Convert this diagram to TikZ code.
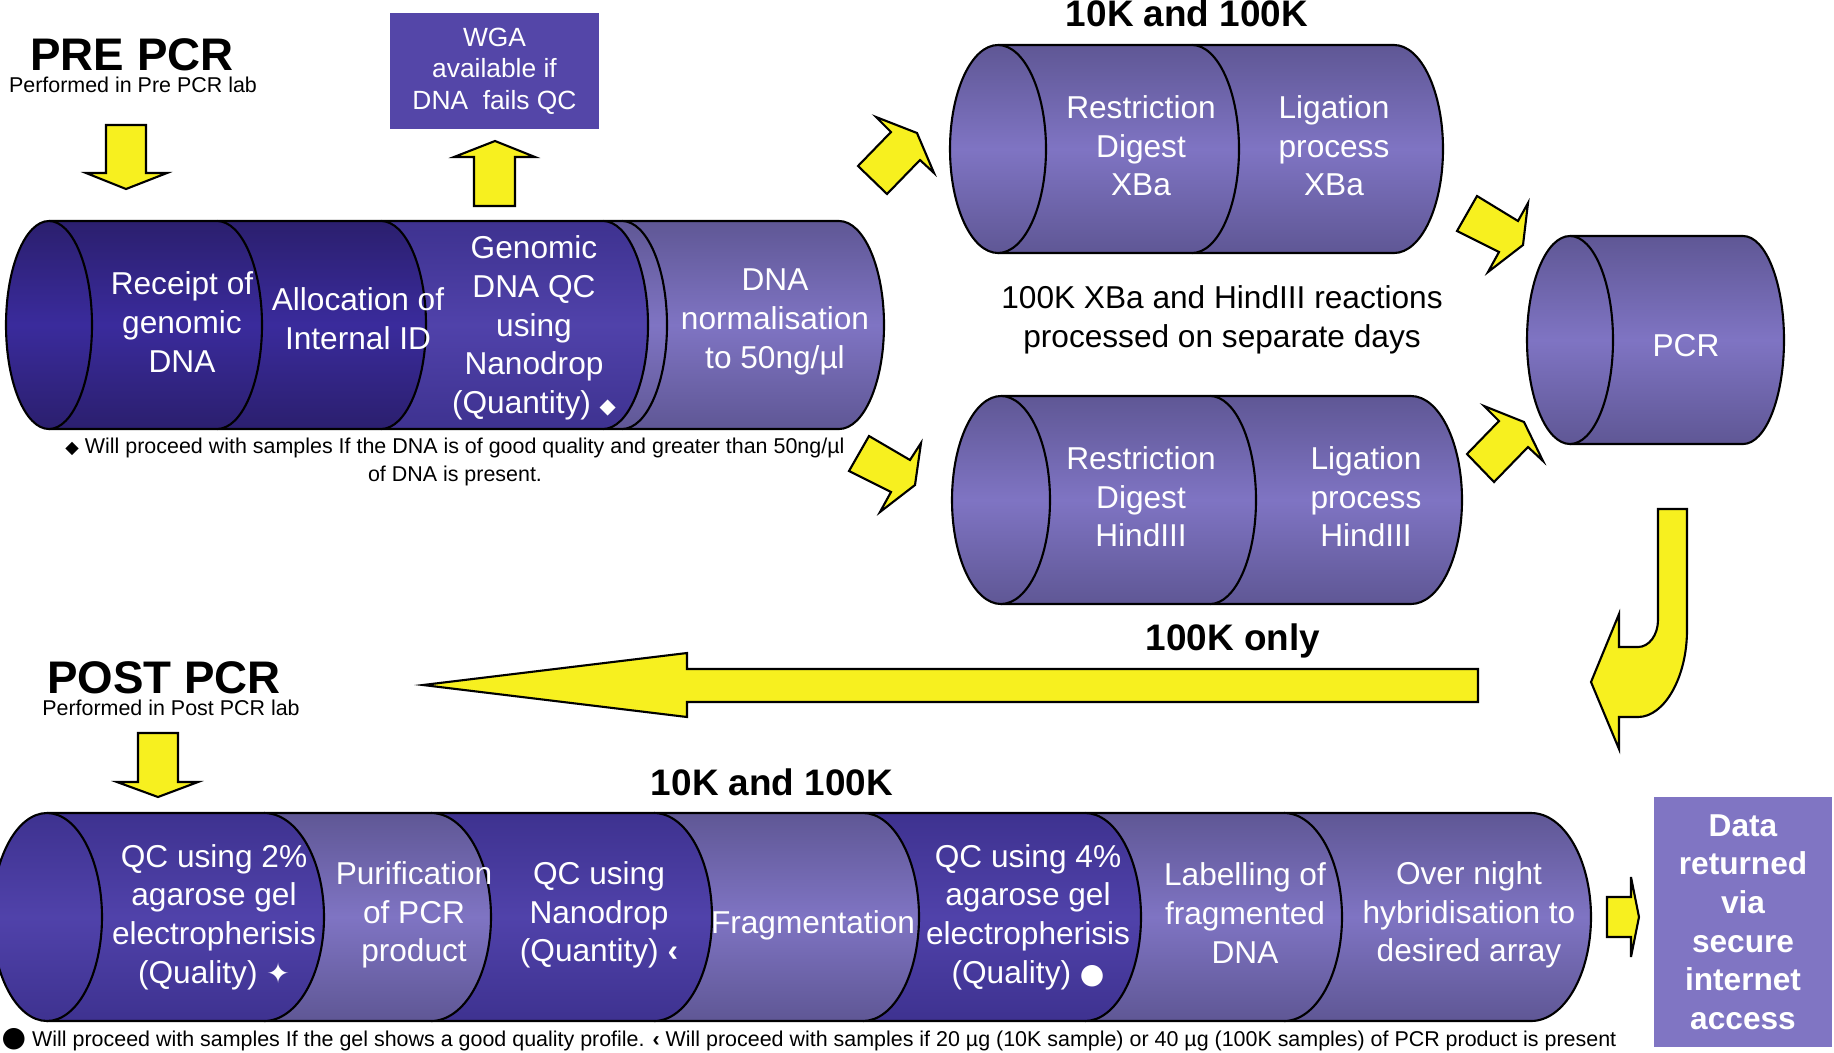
\documentclass[tikz,border=0pt]{standalone}
\usepackage{fontspec}
\setmainfont{Liberation Sans}
\newfontfamily\symfont{DejaVu Sans}

\definecolor{deepedge}{HTML}{2B1F6E}
\definecolor{deepmid}{HTML}{3A2B9C}
\definecolor{midedge}{HTML}{3E3290}
\definecolor{midmid}{HTML}{5042AA}
\definecolor{paleedge}{HTML}{5F5795}
\definecolor{palemid}{HTML}{7F74C3}
\definecolor{wgafill}{HTML}{5446A8}
\definecolor{datafill}{HTML}{8075C3}
\definecolor{arrowyellow}{HTML}{F7F01F}

\tikzstyle{deepseg} = [top color=deepedge, bottom color=deepedge, middle color=deepmid]
\tikzstyle{midseg} = [top color=midedge, bottom color=midedge, middle color=midmid]
\tikzstyle{paleseg} = [top color=paleedge, bottom color=paleedge, middle color=palemid]
\tikzstyle{rim} = [draw=black, line width=0.6pt]
\tikzstyle{yarrow} = [draw=black, fill=arrowyellow, line width=0.6pt]
\tikzstyle{steptext} = [text=white, align=center, font=\fontsize{9}{11}\selectfont]
\tikzstyle{boxtext} = [text=white, align=center, inner sep=0pt]
\tikzstyle{note} = [align=center, font=\fontsize{6.1}{8.2}\selectfont]
\tikzstyle{heading} = [anchor=base, font=\bfseries\fontsize{13}{15}\selectfont]
\tikzstyle{subheading} = [anchor=base, font=\bfseries\fontsize{10.5}{12}\selectfont]

\newcommand{\cylpart}[6]{%
  \shade[#6] (#1,{#3-#4}) -- (#2,{#3-#4}) arc[start angle=-90, end angle=90, x radius=#5, y radius=#4] -- (#1,{#3+#4}) -- cycle;
  \draw[rim] (#1,{#3-#4}) -- (#2,{#3-#4}) arc[start angle=-90, end angle=90, x radius=#5, y radius=#4] -- (#1,{#3+#4});
}
\newcommand{\cylcap}[5]{%
  \shadedraw[#5, rim] (#1,#2) ellipse [x radius=#3, y radius=#4];
}

\begin{document}
\begin{tikzpicture}[x=0.1mm, y=-0.1mm]
    \useasboundingbox (0,0) rectangle (1834,1052);

    \cylpart{622}{839}{325}{104}{45}{paleseg}
    \cylpart{603}{622}{325}{104}{45}{paleseg}
    \cylpart{381}{603}{325}{104}{45}{midseg}
    \cylpart{217}{381}{325}{104}{45}{deepseg}
    \cylpart{49}{217}{325}{104}{45}{deepseg}
    \cylcap{49}{325}{43}{104}{deepseg}

    \cylpart{1192}{1394}{149}{104}{49}{paleseg}
    \cylpart{998}{1192}{149}{104}{47}{paleseg}
    \cylcap{998}{149}{48}{104}{paleseg}

    \cylpart{1210}{1411}{500}{104}{51}{paleseg}
    \cylpart{1001}{1210}{500}{104}{46}{paleseg}
    \cylcap{1001}{500}{49}{104}{paleseg}

    \cylpart{1570}{1743}{340}{104}{41}{paleseg}
    \cylcap{1570}{340}{43}{104}{paleseg}

    \cylpart{1284}{1531}{917}{104}{60}{paleseg}
    \cylpart{1085}{1284}{917}{104}{58}{paleseg}
    \cylpart{863}{1085}{917}{104}{56}{midseg}
    \cylpart{654}{863}{917}{104}{56}{paleseg}
    \cylpart{431}{654}{917}{104}{58}{midseg}
    \cylpart{264}{431}{917}{104}{60}{paleseg}
    \cylpart{47}{264}{917}{104}{60}{midseg}
    \cylcap{47}{917}{55}{104}{midseg}

    \draw[yarrow] (106,125) -- (146,125) -- (146,173) -- (167,173) -- (126,189) -- (86,173) -- (106,173) -- cycle;
    \draw[yarrow] (474,206) -- (474,157) -- (454,157) -- (495,141) -- (535,157) -- (515,157) -- (515,206) -- cycle;
    \draw[yarrow] (858,166) -- (891,132) -- (876,117) -- (917,133) -- (934,173) -- (920,160) -- (887,194) -- cycle;
    \draw[yarrow] (869,436) -- (910,460) -- (921,443) -- (915,485) -- (880,512) -- (891,492) -- (849,471) -- cycle;
    \draw[yarrow] (1477,196) -- (1518,221) -- (1528,203) -- (1523,245) -- (1488,272) -- (1499,252) -- (1457,231) -- cycle;
    \draw[yarrow] (1467,454) -- (1499,421) -- (1484,406) -- (1524,422) -- (1543,461) -- (1528,447) -- (1494,482) -- cycle;
    \draw[yarrow] (1658,509) -- (1687,509) -- (1687,630) .. controls (1687,678) and (1664,717) .. (1638,717) -- (1619,717) -- (1619,749) -- (1591,682) -- (1619,614) -- (1619,647) -- (1638,647) .. controls (1649,647) and (1658,635) .. (1658,620) -- cycle;
    \draw[yarrow] (1478,669) -- (687,669) -- (687,653) -- (423,685) -- (687,717) -- (687,702) -- (1478,702) -- cycle;
    \draw[yarrow] (138,733) -- (178,733) -- (178,782) -- (198,782) -- (158,797) -- (117,782) -- (138,782) -- cycle;
    \draw[yarrow] (1607,897) -- (1631,897) -- (1631,877) -- (1639,917) -- (1631,957) -- (1631,937) -- (1607,937) -- cycle;

    \node [heading] (prehead) at (132,70) {PRE PCR};
    \node [note, anchor=base] (prelab) at (133,92) {Performed in Pre PCR lab};
    \node [boxtext, fill=wgafill, minimum width=20.9mm, minimum height=11.6mm, font=\fontsize{7.5}{9}\selectfont] (wga) at (494.5,71) {WGA\\available if\\DNA\ \ fails QC};
    \node [steptext] (receipt) at (182,322) {Receipt of\\genomic\\DNA};
    \node [steptext] (allocation) at (358,319) {Allocation of\\Internal ID};
    \node [steptext] (genomicqc) at (534,328) {Genomic\\DNA QC\\using\\Nanodrop\\(Quantity) {\symfont\fontsize{6}{6}\selectfont ◆}};
    \node [steptext] (normalise) at (775,322) {DNA\\normalisation\\to 50ng/µl};
    \node [note] (prenote) at (455,462) {{\symfont\fontsize{5}{5}\selectfont ◆} Will proceed with samples If the DNA is of good quality and greater than 50ng/µl\\of DNA is present.};

    \node [subheading] (toptitle) at (1187,26) {10K and 100K};
    \node [steptext] (digestxba) at (1141,146) {Restriction\\Digest\\XBa};
    \node [steptext] (ligatexba) at (1334,146) {Ligation\\process\\XBa};
    \node [steptext, text=black] (separate) at (1222,320) {100K XBa and HindIII reactions\\processed on separate days};
    \node [steptext] (digesthind) at (1141,497) {Restriction\\Digest\\HindIII};
    \node [steptext] (ligatehind) at (1366,497) {Ligation\\process\\HindIII};
    \node [steptext] (pcr) at (1686,346) {PCR};
    \node [subheading] (only100) at (1233,650) {100K only};

    \node [heading] (posthead) at (164,693) {POST PCR};
    \node [note, anchor=base] (postlab) at (171,715) {Performed in Post PCR lab};
    \node [subheading] (bottitle) at (772,795) {10K and 100K};
    \node [steptext] (gelqc) at (214,917) {QC using 2\%\\agarose gel\\electropherisis\\(Quality) {\symfont\fontsize{8}{8}\selectfont ✦}};
    \node [steptext] (purify) at (414,915) {Purification\\of PCR\\product};
    \node [steptext] (nanoqc) at (599,915) {QC using\\Nanodrop\\(Quantity) {\bfseries ‹}};
    \node [steptext] (fragment) at (813,925) {Fragmentation};
    \node [steptext] (gelqc4) at (1028,917) {QC using 4\%\\agarose gel\\electropherisis\\(Quality) {\symfont\fontsize{8}{8}\selectfont ●}};
    \node [steptext] (labelling) at (1245,913) {Labelling of\\fragmented\\DNA};
    \node [steptext] (hybridise) at (1469,915) {Over night\\hybridisation to\\desired array};
    \node [boxtext, fill=datafill, minimum width=17.8mm, minimum height=25mm, font=\bfseries\fontsize{9}{11}\selectfont] (data) at (1743,922) {Data\\returned\\via\\secure\\internet\\access};
    \node [note, anchor=base west, inner sep=0pt] (postnote) at (1,1046) {{\symfont\fontsize{8}{8}\selectfont ●} Will proceed with samples If the gel shows a good quality profile. {\bfseries ‹} Will proceed with samples if 20 µg (10K sample) or 40 µg (100K samples) of PCR product is present};
\end{tikzpicture}
\end{document}
